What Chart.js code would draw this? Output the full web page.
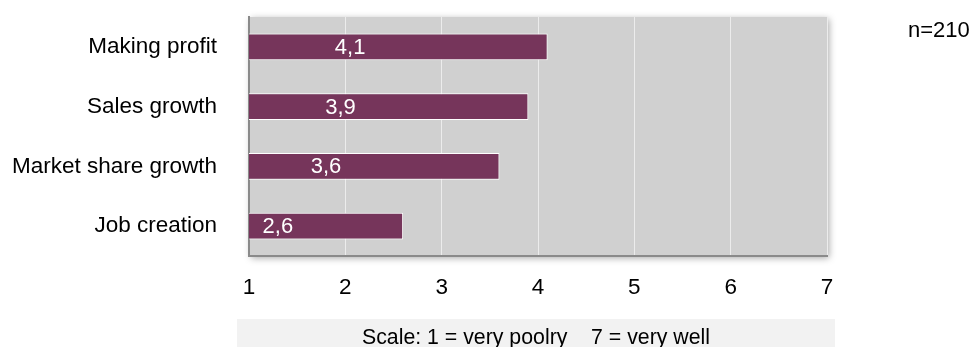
<!DOCTYPE html>
<html>
<head>
<meta charset="utf-8">
<script src="https://cdn.jsdelivr.net/npm/chart.js@4.4.1/dist/chart.umd.min.js"></script>
<style>
  html, body { margin: 0; padding: 0; background: #fff; }
  #wrap { width: 979px; height: 347px; position: relative; }
</style>
</head>
<body>
<div id="wrap"><canvas id="chart"></canvas></div>
<script>
// ------------------------------
// DATA
// ------------------------------
const categories = ["Making profit", "Sales growth", "Market share growth", "Job creation"];
const scores     = [4.1, 3.9, 3.6, 2.6];
const scaleTicks = [1, 2, 3, 4, 5, 6, 7];
const sampleNote = "n=210";
const scaleNote  = "Scale: 1 = very poolry    7 = very well";

const FONT = "'Liberation Sans', Arial, sans-serif";
const BAR_COLOR = "#76355b";

// grey plot panel with a soft drop shadow
const panelBackground = {
    id: "panelBackground",
    beforeDraw(chart) {
        const { ctx, chartArea: a } = chart;
        ctx.save();
        ctx.shadowColor = "rgba(0,0,0,0.35)";
        ctx.shadowBlur = 7;
        ctx.shadowOffsetX = 2;
        ctx.shadowOffsetY = 2;
        ctx.fillStyle = "#d0d0d0";
        ctx.fillRect(a.left, a.top, a.right - a.left, a.bottom - a.top);
        ctx.restore();
    }
};

// value text centred on each bar, decimal comma
const barValues = {
    id: "barValues",
    afterDatasetsDraw(chart) {
        const { ctx } = chart;
        const meta = chart.getDatasetMeta(0);
        ctx.save();
        ctx.font = "22px " + FONT;
        ctx.fillStyle = "#ffffff";
        ctx.textAlign = "center";
        ctx.textBaseline = "middle";
        meta.data.forEach((bar, i) => {
            const txt = scores[i].toFixed(1).replace(".", ",");
            ctx.fillText(txt, (bar.x + bar.base) / 2, bar.y + 1);
        });
        ctx.restore();
    }
};

// sample size at top right, scale legend box underneath
const notes = {
    id: "notes",
    afterDraw(chart) {
        const { ctx, chartArea: a } = chart;
        ctx.save();
        ctx.font = "22px " + FONT;
        ctx.fillStyle = "#000";
        ctx.textAlign = "left";
        ctx.textBaseline = "middle";
        ctx.fillText(sampleNote, 908, 31);

        const boxL = a.left - 12, boxR = a.right + 8, boxT = 319;
        ctx.fillStyle = "#f2f2f2";
        ctx.fillRect(boxL, boxT, boxR - boxL, chart.height - boxT);
        ctx.font = "21.3px " + FONT;
        ctx.fillStyle = "#000";
        ctx.textAlign = "center";
        ctx.fillText(scaleNote, (boxL + boxR) / 2, 338);
        ctx.restore();
    }
};

new Chart(document.getElementById("chart"), {
    type: "bar",
    data: {
        labels: categories,
        datasets: [{
            data: scores,
            backgroundColor: BAR_COLOR,
            borderColor: "#ffffff",
            borderWidth: 1,
            borderSkipped: false,
            barPercentage: 0.45,
            categoryPercentage: 1
        }]
    },
    options: {
        indexAxis: "y",
        responsive: true,
        maintainAspectRatio: false,
        animation: false,
        layout: { padding: { top: 17, right: 152, left: 0, bottom: 0 } },
        plugins: {
            legend: { display: false },
            tooltip: { enabled: false }
        },
        scales: {
            x: {
                min: scaleTicks[0],
                max: scaleTicks[scaleTicks.length - 1],
                afterBuildTicks: (axis) => { axis.ticks = scaleTicks.map(v => ({ value: v })); },
                afterFit: (axis) => { axis.height = 91; },
                grid: {
                    color: "#ececec",
                    lineWidth: 1,
                    drawTicks: false
                },
                border: { display: true, color: "#8a8a8a", width: 2 },
                ticks: {
                    padding: 18,
                    color: "#000",
                    font: { family: FONT, size: 22.5 }
                }
            },
            y: {
                afterFit: (axis) => {
                    axis.width = 249;
                    axis.paddingTop = 0;
                    axis.paddingBottom = 0;
                },
                grid: { display: false, drawTicks: false },
                border: { display: true, color: "#8a8a8a", width: 2 },
                ticks: {
                    padding: 32,
                    color: "#000",
                    font: { family: FONT, size: 22.5 }
                }
            }
        }
    },
    plugins: [panelBackground, barValues, notes]
});
</script>
</body>
</html>
